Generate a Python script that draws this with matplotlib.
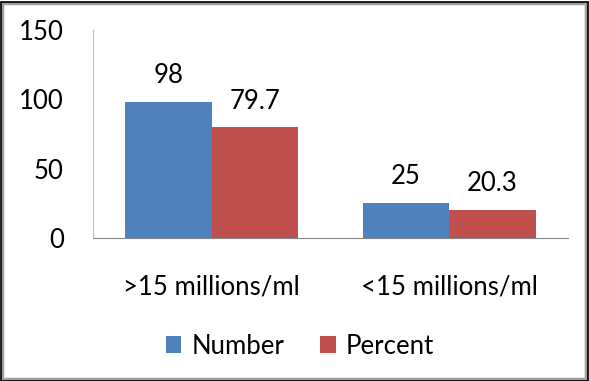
import numpy as np
import matplotlib.pyplot as plt
from matplotlib.patches import Rectangle

categories = ['>15 millions/ml', '<15 millions/ml']
number = [98, 25]
percent = [79.7, 20.3]
number_labels = ['98', '25']
percent_labels = ['79.7', '20.3']

plt.rcParams['font.family'] = ['Lato', 'DejaVu Sans']
fs = 18.5

fig = plt.figure(figsize=(5.89, 3.81), dpi=100)
ax = fig.add_axes([93 / 589, 1 - 238 / 381, 475 / 589, 208 / 381])

x = np.arange(len(categories))
w = 0.364
b1 = ax.bar(x - w / 2, number, w, color='#4F81BD', label='Number')
b2 = ax.bar(x + w / 2, percent, w, color='#C0504D', label='Percent')
ax.bar_label(b1, labels=number_labels, padding=10, fontsize=fs)
ax.bar_label(b2, labels=percent_labels, padding=10, fontsize=fs)

ax.set_xlim(-0.5, 1.5)
ax.set_ylim(0, 150)
ax.set_yticks([0, 50, 100, 150])
ax.set_xticks(x)
ax.set_xticklabels(categories)
ax.tick_params(axis='both', length=0, labelsize=fs)
ax.tick_params(axis='y', pad=21)
ax.tick_params(axis='x', pad=26)
for s in ['top', 'right']:
    ax.spines[s].set_visible(False)
ax.spines['left'].set_color('#BFBFBF')
ax.spines['bottom'].set_color('#868686')

fig.legend(loc='center', bbox_to_anchor=(300 / 589, 1 - 346 / 381), ncol=2,
           frameon=False, fontsize=fs, handlelength=0.6, handleheight=0.6,
           handletextpad=0.4, columnspacing=1.4)

# frame around the chart
fig.patches.append(Rectangle((2 / 589, 2 / 381), 584 / 589, 376 / 381, transform=fig.transFigure,
                             fill=False, edgecolor='#A0A0A0', linewidth=2.5))
fig.patches.append(Rectangle((0.5 / 589, 0.5 / 381), 587 / 589, 379 / 381, transform=fig.transFigure,
                             fill=False, edgecolor='black', linewidth=1.2))

fig.savefig('out.png', dpi=100)
